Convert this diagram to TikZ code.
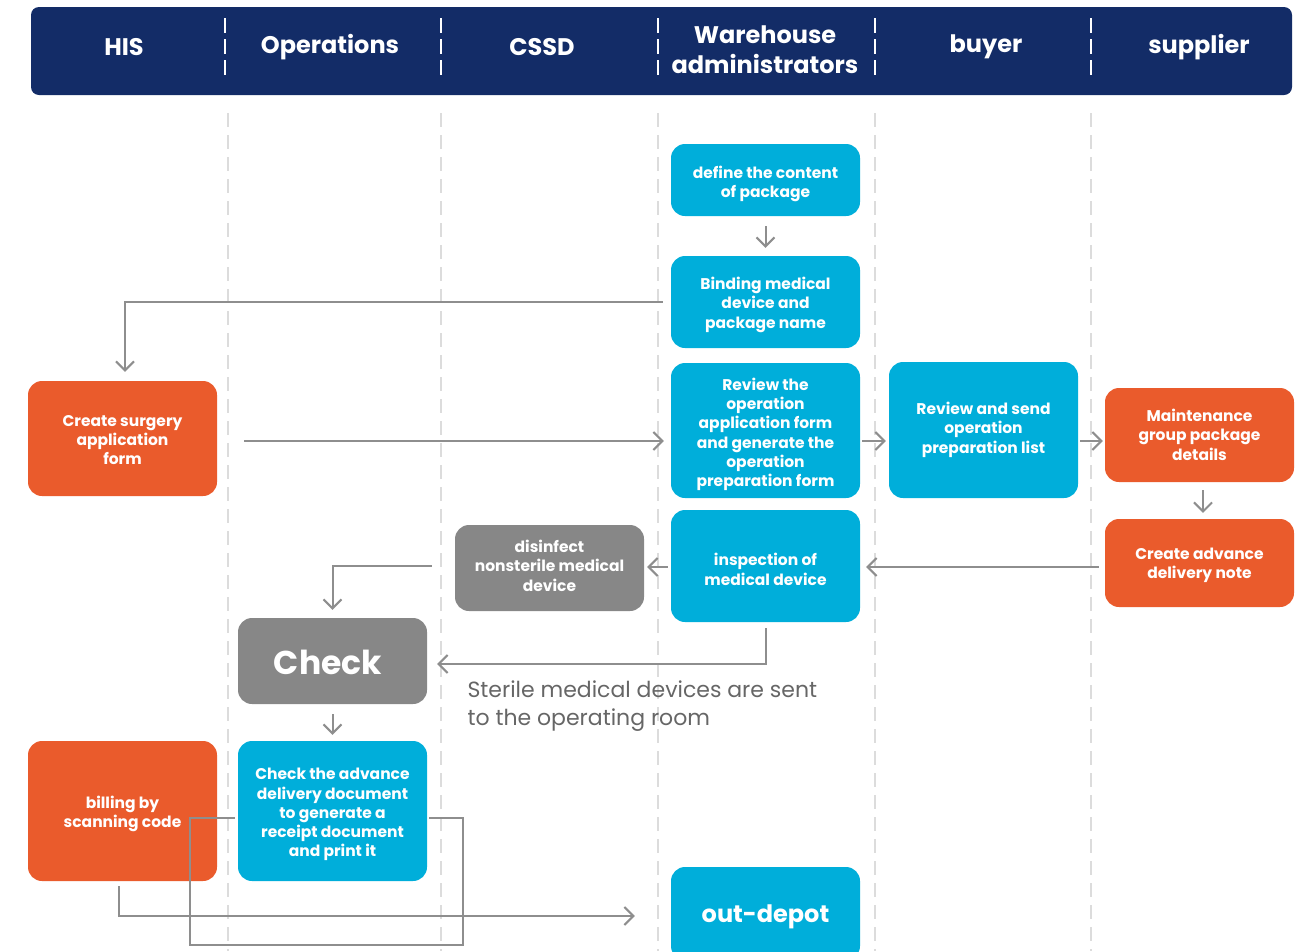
\documentclass[tikz,border=0pt]{standalone}
\usepackage{fontspec}
\setmainfont{Poppins}
\usetikzlibrary{arrows.meta}
\definecolor{navy}{HTML}{132C67}
\definecolor{cyanbox}{HTML}{00AEDA}
\definecolor{orangebox}{HTML}{EA5B2C}
\definecolor{graybox}{HTML}{878787}
\definecolor{arrowgray}{HTML}{8E8E8E}
\definecolor{lanegray}{HTML}{DCDCDC}
\definecolor{labelgray}{HTML}{666666}
\newcommand\lowtext[2][-4pt]{\raisebox{#1}[\height][\depth]{\begin{tabular}{@{}c@{}}#2\end{tabular}}}
\tikzset{
  box/.style={rounded corners=14pt, minimum width=189pt, inner sep=0pt, text=white, align=center,
    font=\fontsize{15.5}{19.3}\selectfont\bfseries},
  cbox/.style={box, fill=cyanbox},
  obox/.style={box, fill=orangebox},
  gbox/.style={box, fill=graybox},
  conn/.style={draw=arrowgray, line width=2pt, -{Straight Barb[length=9pt,width=18pt,line width=2pt]}},
  plainconn/.style={draw=arrowgray, line width=2pt},
  lane/.style={draw=lanegray, line width=2pt, dash pattern=on 14pt off 8pt},
  hsep/.style={draw=white, line width=1.6pt, dash pattern=on 15pt off 6pt},
  head/.style={text=white, font=\fontsize{24}{30}\selectfont\bfseries, align=center},
}
\begin{document}
\begin{tikzpicture}[x=1pt,y=-1pt]
\useasboundingbox (0,0) rectangle (1300,951);
% header
\node[fill=navy, rounded corners=8pt, minimum width=1261pt, minimum height=88pt, inner sep=0pt] (header) at (661.5,51) {};
\foreach \x in {225,441,658,875,1091} \draw[hsep] (\x,18) -- (\x,78);
\node[head] (hHIS) at (124,47) {HIS};
\node[head] (hOps) at (330,47) {Operations};
\node[head] (hCSSD) at (542,47) {CSSD};
\node[head] (hWare) at (765,50) {Warehouse\\administrators};
\node[head] (hBuyer) at (986,47) {buyer};
\node[head] (hSup) at (1199,47) {supplier};
% lanes
\foreach \x in {228,441,658,875,1091} \draw[lane] (\x,113) -- (\x,951);
% nodes
\node[cbox, minimum height=72pt] (define) at (765.5,180) {\lowtext{define the content\\of package}};
\node[cbox, minimum height=92pt] (binding) at (765.5,302) {\lowtext[-3pt]{Binding medical\\device and\\package name}};
\node[cbox, minimum height=135pt] (review) at (765.5,430.5) {\lowtext{Review the\\operation\\application form\\and generate the\\operation\\preparation form}};
\node[cbox, minimum height=136pt] (rsend) at (983.5,430) {\lowtext[0pt]{Review and send\\operation\\preparation list}};
\node[obox, minimum height=94pt] (maint) at (1199.5,435) {\lowtext[-2pt]{Maintenance\\group package\\details}};
\node[obox, minimum height=88pt] (adv) at (1199.5,563) {\lowtext[-2pt]{Create advance\\delivery note}};
\node[cbox, minimum height=112pt] (insp) at (765.5,566) {\lowtext[-5.5pt]{inspection of\\medical device}};
\node[gbox, minimum height=86pt] (disinf) at (549.5,568) {\lowtext[0pt]{disinfect\\nonsterile medical\\device}};
\node[gbox, minimum height=86pt, font=\fontsize{33}{40}\selectfont\bfseries] (check) at (332.5,661) {\lowtext[-5pt]{\hspace*{-9pt}Check}};
\node[cbox, minimum height=140pt] (checkadv) at (332.5,811) {\lowtext[-3.5pt]{Check the advance\\delivery document\\to generate a\\receipt document\\and print it}};
\node[obox, minimum height=140pt] (billing) at (122.5,811) {\lowtext[-3pt]{billing by\\scanning code}};
\node[obox, minimum height=115pt] (surgery) at (122.5,438.5) {\lowtext[-3pt]{Create surgery\\application\\form}};
\node[cbox, minimum height=93pt, font=\fontsize{24}{30}\selectfont\bfseries] (outdepot) at (765.5,913.5) {\lowtext[-3pt]{out-depot}};
\node[text=labelgray, anchor=north west, align=left, font=\fontsize{22}{28}\selectfont] (lbl) at (464,677) {Sterile medical devices are sent\\to the operating room};
% connectors
\draw[conn] ([yshift=-10pt]define.south) -- ([yshift=8pt]binding.north);
\draw[conn] ([xshift=-8pt]binding.west) -| ([yshift=9pt]surgery.north -| 125,0);
\draw[conn] ([xshift=27pt]surgery.east |- 0,441) -- ([xshift=-7pt]review.west |- 0,441);
\draw[conn] ([xshift=2pt]review.east |- 0,441) -- ([xshift=-3pt]rsend.west |- 0,441);
\draw[conn] ([xshift=2pt]rsend.east |- 0,441) -- ([xshift=-2pt]maint.west |- 0,441);
\draw[conn] ([yshift=-8pt]maint.south -| 1203,0) -- ([yshift=6pt]adv.north -| 1203,0);
\draw[conn] ([xshift=-6pt]adv.west |- 0,567) -- ([xshift=6pt]insp.east |- 0,567);
\draw[conn] ([xshift=-3pt]insp.west |- 0,567) -- ([xshift=3pt]disinf.east |- 0,567);
\draw[conn] ([xshift=-23pt]disinf.west |- 0,566) -| ([yshift=8pt]check.north);
\draw[conn] ([yshift=-6pt]insp.south) |- ([xshift=10pt]check.east |- 0,664);
\draw[conn] ([yshift=-10pt]check.south) -- ([yshift=6pt]checkadv.north);
\draw[plainconn] ([xshift=-3pt]checkadv.west |- 0,818) -- (190,818) -- (190,945) -- (463,945) -- (463,818) -- ([xshift=2pt]checkadv.east |- 0,818);
\draw[conn] ([yshift=-5pt]billing.south -| 119,0) |- ([xshift=-36pt]outdepot.west |- 0,916);
\end{tikzpicture}
\end{document}
